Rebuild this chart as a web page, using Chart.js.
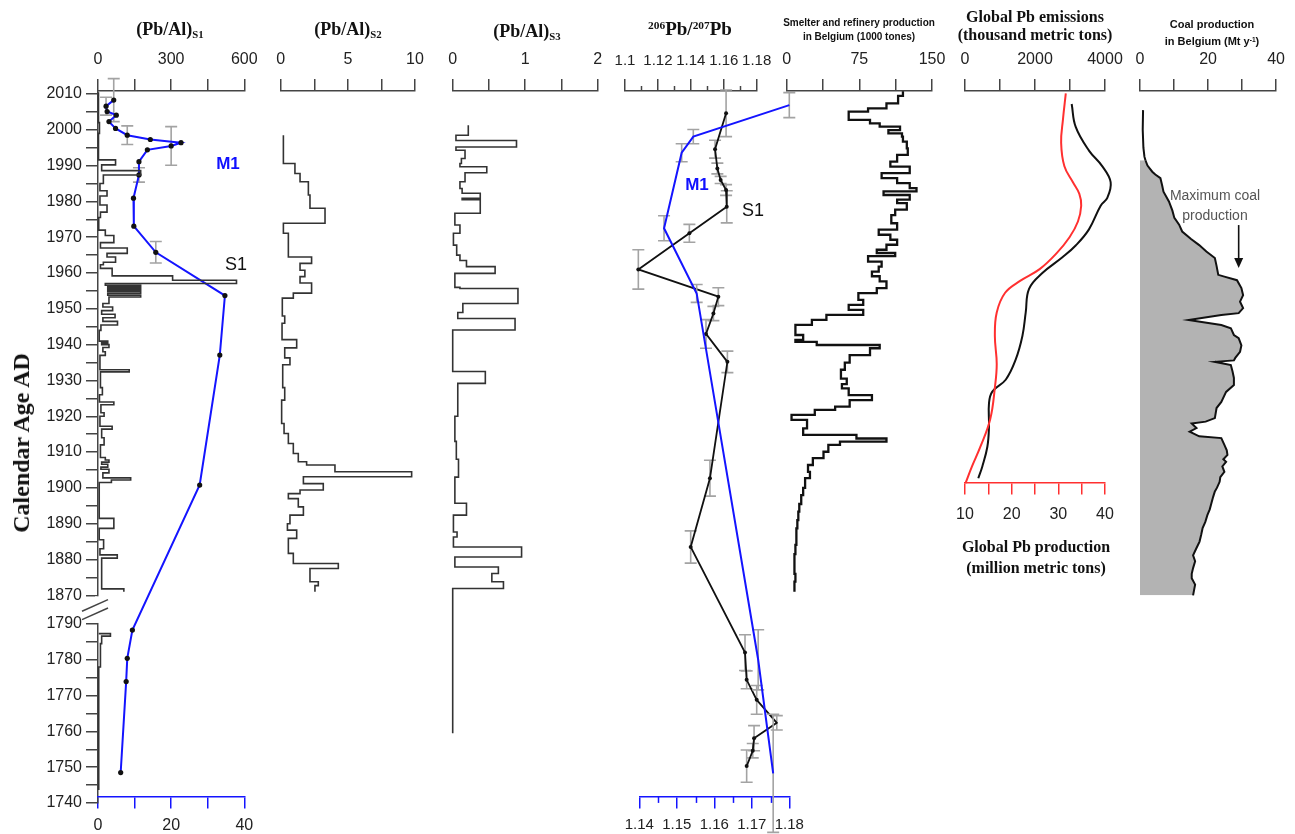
<!DOCTYPE html>
<html lang="en">
<head>
<meta charset="UTF-8">
<title>Pb records, smelter, emissions and coal</title>
<script src="https://cdn.jsdelivr.net/npm/chart.js"></script>
<style>
  body { margin: 0; background: #fff; }
  #wrap { position: relative; width: 1295px; height: 834px; overflow: hidden; }
  canvas { position: absolute; left: 0; top: 0; }
  .t { position: absolute; transform: translate(-50%, -50%); white-space: nowrap; color: #111; line-height: 1; }
  .serif { font-family: "Liberation Serif", "Times New Roman", serif; font-weight: bold; }
  .sans { font-family: "Liberation Sans", Arial, sans-serif; font-weight: bold; }
  sub { font-size: 60%; vertical-align: -0.3em; }
  sup { font-size: 60%; vertical-align: 0.45em; }
</style>
</head>
<body>
<div id="wrap">
  <canvas id="c1" width="1295" height="834"></canvas>
  <canvas id="c2" width="1295" height="834"></canvas>
  <canvas id="c3" width="1295" height="834"></canvas>
  <canvas id="c4a" width="1295" height="834"></canvas>
  <canvas id="c4b" width="1295" height="834"></canvas>
  <canvas id="c5" width="1295" height="834"></canvas>
  <canvas id="c6" width="1295" height="834"></canvas>
  <canvas id="c7" width="1295" height="834"></canvas>

  <div class="t serif" style="left:21px;top:443px;font-size:24px;transform:translate(-50%,-50%) rotate(-90deg)">Calendar Age AD</div>
  <div class="t serif" style="left:170px;top:30px;font-size:18px">(Pb/Al)<sub>S1</sub></div>
  <div class="t serif" style="left:348px;top:30px;font-size:18px">(Pb/Al)<sub>S2</sub></div>
  <div class="t serif" style="left:527px;top:32px;font-size:18px">(Pb/Al)<sub>S3</sub></div>
  <div class="t serif" style="left:690px;top:28px;font-size:19px"><sup>206</sup>Pb/<sup>207</sup>Pb</div>
  <div class="t sans" style="left:859px;top:23px;font-size:10px">Smelter and refinery production</div>
  <div class="t sans" style="left:859px;top:37px;font-size:10px">in Belgium (1000 tones)</div>
  <div class="t serif" style="left:1035px;top:17px;font-size:16px">Global Pb emissions</div>
  <div class="t serif" style="left:1035px;top:35px;font-size:16px">(thousand metric tons)</div>
  <div class="t serif" style="left:1036px;top:547px;font-size:16px">Global Pb production</div>
  <div class="t serif" style="left:1036px;top:568px;font-size:16px">(million metric tons)</div>
  <div class="t sans" style="left:1212px;top:24px;font-size:11px">Coal production</div>
  <div class="t sans" style="left:1212px;top:41px;font-size:11px">in Belgium (Mt y<sup>-1</sup>)</div>
  <div class="t sans" style="left:1215px;top:195px;font-size:14px;font-weight:normal;color:#555">Maximum coal</div>
  <div class="t sans" style="left:1215px;top:215px;font-size:14px;font-weight:normal;color:#555">production</div>
  <div class="t sans" style="left:228px;top:163px;font-size:17px;color:#1010ff">M1</div>
  <div class="t sans" style="left:236px;top:264px;font-size:18px;font-weight:normal">S1</div>
  <div class="t sans" style="left:697px;top:184px;font-size:17px;color:#1010ff">M1</div>
  <div class="t sans" style="left:753px;top:210px;font-size:18px;font-weight:normal">S1</div>
</div>
<script>
// ---- data (years are calendar years AD) ----

// y axis ticks, every 5 years on both sides of the break
const yearTicks = [2010, 2005, 2000, 1995, 1990, 1985, 1980, 1975, 1970, 1965, 1960, 1955, 1950, 1945,
  1940, 1935, 1930, 1925, 1920, 1915, 1910, 1905, 1900, 1895, 1890, 1885, 1880, 1875, 1870,
  1790, 1785, 1780, 1775, 1770, 1765, 1760, 1755, 1750, 1745, 1740];

// (Pb/Al)S1 step record: top year of each interval and its value
const s1Tops = [2010.5, 2002, 1999, 1991.6, 1990.2, 1988.6, 1987.4, 1985, 1983, 1981.5, 1979, 1977, 1975.5,
  1972, 1970.5, 1968.5, 1967, 1965.5, 1964.5, 1963, 1962.3, 1961.3, 1959.2, 1958.0, 1957.1, 1956.6,
  1956.2, 1955.8, 1955.3, 1954.8, 1954.3, 1953.8, 1953.3, 1951.5, 1950.5, 1949.5, 1948.5, 1947.5, 1946.5,
  1945.5, 1944, 1941, 1940.5, 1940, 1939.2, 1938, 1937, 1933, 1932.4, 1928, 1926, 1924, 1923.2, 1921, 1920,
  1917.2, 1916.4, 1914, 1912, 1908.5, 1907.8, 1907.2, 1906.6, 1905.8, 1905.2, 1904.2, 1902.8, 1902.2,
  1901.5, 1891.5, 1888.7, 1885.5, 1883, 1881.3, 1880.4, 1871.8];
const s1Vals = [2, 6, 2, 72, 15, 175, 22, 8, 37, 8, 37, 10, 3,
  30, 65, 10, 120, 37, 72, 22, 10, 58, 306, 568, 30, 175,
  40, 175, 40, 175, 40, 175, 45, 20, 60, 15, 70, 20, 80,
  12, 5, 40, 15, 45, 20, 30, 8, 128, 10, 18, 6, 65, 12, 25, 8,
  58, 15, 25, 10, 30, 45, 15, 40, 12, 45, 20, 134, 55,
  5, 65, 5, 23, 8, 79, 15, 106];
const s1End = 1871;
const s1LowTops = [1787.3, 1787.3, 1786.6, 1784.5, 1778];
const s1LowVals = [3, 51, 15, 10, 3];
const s1LowEnd = 1743.6;

// M1 record (bottom axis, 0-40) with age error (years)
const m1Years = [2008.3, 2006.6, 2005.1, 2004.1, 2002.3, 2000.4, 1998.5, 1997.3, 1996.4, 1995.5, 1994.4,
  1991.1, 1987.4, 1980.9, 1973.1, 1965.8, 1953.7, 1937.1, 1900.8, 1788.3, 1780.4, 1773.9, 1748.5];
const m1Vals = [4.3, 2.2, 2.5, 5.0, 3.0, 4.8, 8.0, 14.3, 22.7, 20.0, 13.5,
  11.2, 11.2, 9.7, 9.8, 15.8, 34.7, 33.3, 27.8, 9.4, 8.0, 7.7, 6.2];
const m1Err = [6, 2.5, 0, 0, 0, 0, 2.6, 0, 0, 5.4, 0, 0, 2, 0, 0, 3, 0, 0, 0, 0, 0, 0, 0];

// (Pb/Al)S2 step record
const s2Tops = [1998.5, 1990.6, 1987.8, 1985.5, 1981.8, 1978.1, 1973.9, 1971.1, 1964.5, 1962.7, 1960.8,
  1959, 1957.2, 1954.4, 1953, 1948, 1946, 1941.4, 1939.1, 1936.3, 1934.4, 1928, 1924.5, 1918, 1915.2,
  1912.4, 1909.6, 1907.3, 1906.4, 1904.5, 1903.1, 1901.2, 1899.4, 1898.4, 1897, 1894.7, 1892.4, 1890,
  1888.2, 1885.9, 1881.7, 1878.9, 1877.5, 1873.8, 1872.7];
const s2Vals = [0.2, 1.06, 1.44, 2.06, 2.18, 3.3, 0.2, 0.57, 2.3, 1.44, 1.8,
  1.44, 2.3, 0.94, 0.12, 0.3, 0.1, 1.19, 0.3, 0.69, 0.15, 0.3, 0.07, 0.25, 0.57,
  0.94, 1.31, 1.93, 4.04, 9.75, 1.69, 3.17, 1.44, 0.57, 1.31, 1.69, 0.69, 0.5,
  1.19, 0.57, 0.94, 4.29, 2.18, 2.8, 2.55];
const s2End = 1871;

// (Pb/Al)S3 step record
const s3Tops = [2001.3, 1998.5, 1997, 1995.2, 1994.3, 1992, 1990.6, 1989.7, 1988, 1985.5, 1983.6, 1982.3,
  1980.9, 1980.5, 1976.7, 1973.4, 1971.1, 1967.8, 1965, 1963.5, 1961.8, 1959.9, 1956, 1955.7, 1951.5,
  1949, 1947.3, 1944.1, 1932.5, 1929.2, 1920, 1913, 1908, 1903, 1895.7, 1892.4, 1887.7, 1886.3, 1883.5,
  1880.7, 1877.9, 1876.1, 1873.8, 1871.9];
const s3Vals = [0.215, 0.045, 0.88, 0.045, 0.17, 0.12, 0.1, 0.47, 0.17, 0.1, 0.13, 0.38,
  0.13, 0.38, 0.03, 0.1, 0.01, 0.055, 0.1, 0.19, 0.585, 0.03, 0.1, 0.9, 0.14,
  0.07, 0.86, 0, 0.45, 0.07, 0.03, 0.05, 0.08, 0.03, 0.19, 0.01, 0.06, 0.01, 0.95,
  0.03, 0.63, 0.54, 0.7, 0];
const s3End = 1759.5;

// 206Pb/207Pb, S1 core (top axis) and M1 core (bottom axis)
const ratioS1Years = [2004.6, 1994.6, 1989.2, 1986, 1983.2, 1978.5, 1971.1, 1961, 1953.4, 1948.7, 1943,
  1935.2, 1902.7, 1883.5, 1782, 1774.4, 1768.8, 1762.4, 1758.1, 1754.6, 1750.3];
const ratioS1Vals = [1.1614, 1.1547, 1.1561, 1.1581, 1.1614, 1.1618, 1.1391, 1.1081, 1.1567, 1.1537, 1.1492,
  1.1622, 1.1516, 1.1399, 1.1729, 1.1739, 1.18, 1.1922, 1.1784, 1.1776, 1.1739];
const ratioS1Err = [6.5, 2.5, 1.5, 1, 1.5, 4.5, 2.5, 5.5, 2.5, 2, 4, 3, 5, 4.5, 5, 2.5, 4, 2, 3.5, 2, 4.5];
const ratioM1Years = [2006.9, 1998.1, 1993.6, 1972.5, 1954.3, 1780, 1748.3];
const ratioM1Vals = [1.18, 1.1544, 1.1513, 1.1466, 1.1553, 1.1717, 1.1757];
const ratioM1Err = [3.5, 2, 2.5, 3.5, 2.5, 8.4, 16.5];

// smelter and refinery production in Belgium (1000 t), annual steps
const smTops = [2010.8, 2009.5, 2007.4, 2006, 2005.1, 2002.8, 2001.8, 2000.9, 1999.9, 1999, 1998.1, 1996.7,
  1994.8, 1993, 1991.1, 1989.7, 1987.9, 1986.5, 1985.1, 1983.7, 1982.8, 1981.8, 1980.5, 1979.5, 1977.7,
  1976.2, 1973.9, 1972.1, 1970.7, 1969.3, 1967.9, 1966.5, 1965.6, 1964.7, 1963.2, 1961.8, 1960.4, 1959.1,
  1957.7, 1955.8, 1954.4, 1952.5, 1951.1, 1949.7, 1948.3, 1946.9, 1945.5, 1942.7, 1941.3, 1940.8, 1939.9,
  1939, 1937.1, 1935, 1933, 1930.5, 1929, 1927.8, 1925.9, 1924.5, 1922.7, 1921.8, 1920.4, 1919, 1916.6,
  1914.8, 1913.8, 1912.9, 1912, 1910.1, 1908.3, 1906.4, 1904.5, 1902.7, 1900, 1898, 1895.5, 1893.4, 1891,
  1888.7, 1886, 1884.1, 1881.5, 1879.4, 1876, 1873.8];
const smVals = [120, 115, 103, 84, 64, 86, 96, 117, 105, 119, 120, 124,
  125, 114, 107, 127, 98, 114, 127, 134, 100, 127, 114, 124, 112,
  108, 114, 95, 107, 114, 103, 93, 112, 84, 98, 95, 88, 96,
  103, 93, 74, 79, 64, 79, 41, 26, 9, 17, 9, 31, 96,
  86, 65, 60, 56, 62, 57, 64, 88, 65, 50, 29, 5, 21, 17,
  72, 103, 55, 43, 38, 27, 22, 24, 19, 17, 15, 13, 12, 11,
  10, 10, 9, 8, 8, 9, 8];
const smEnd = 1871;

// global Pb emissions (thousand t) and global Pb production (million t)
const emisYears = [2007.2, 2000.8, 1994.2, 1989.8, 1985.4, 1981, 1978.8, 1972.2, 1967.7, 1964.4, 1960,
  1955.6, 1949, 1942.4, 1935.8, 1930.2, 1926.9, 1923.6, 1917, 1911.5, 1906, 1902.7];
const emisVals = [3048, 3163, 3542, 3925, 4161, 4066, 3876, 3542, 3163, 2783, 2210,
  1830, 1735, 1640, 1447, 1163, 780, 685, 685, 639, 495, 380];
const prodYears = [2010.2, 2003, 1996.4, 1989.8, 1985.4, 1982.1, 1978.8, 1974.4, 1970, 1965.5, 1961.1,
  1957.8, 1954.5, 1949, 1942.4, 1934.6, 1928, 1919.2, 1911.5, 1906, 1901.3];
const prodVals = [31.6, 31.0, 30.6, 31.3, 33.1, 34.5, 34.9, 34.2, 32.4, 29.6, 26.0,
  21.8, 18.6, 16.8, 16.4, 16.8, 16.4, 15.4, 13.3, 11.5, 10.1];

// coal production in Belgium (Mt per year)
const coalYears = [2005.5, 2000, 1995, 1992.5, 1991.5, 1990, 1988.3, 1987.5, 1986.5, 1984.5, 1982.7, 1980,
  1977.5, 1975.4, 1973.5, 1971.6, 1969.5, 1967.8, 1966, 1964.2, 1962, 1959.5, 1959, 1958, 1955.8, 1953.8,
  1952, 1950.2, 1948.8, 1948.3, 1946.9, 1945.5, 1944.6, 1942.7, 1941.8, 1939.8, 1938, 1936.3, 1935.6,
  1935.2, 1934.3, 1932.5, 1930.7, 1928.7, 1926.8, 1924, 1922.3, 1919.5, 1918.5, 1918, 1916.7, 1915.7,
  1914.4, 1913.9, 1912, 1910.5, 1909.2, 1908, 1907.3, 1906, 1904.5, 1903, 1901.7, 1900, 1899, 1897.5,
  1896.1, 1894, 1892.4, 1890.5, 1888.8, 1887, 1885, 1883, 1881.2, 1879.5, 1877.6, 1876, 1874.8, 1873,
  1872, 1870];
const coalVals = [0.9, 0.8, 1.0, 1.3, 1.6, 2.2, 3.6, 4.5, 6, 6.5, 6.9, 8.5,
  9.5, 10.1, 11.5, 12.4, 15, 17.4, 19.5, 22, 22.5, 23, 24.8, 28.5, 29.8, 30.3,
  29.4, 30.3, 29, 23.9, 14.3, 23.9, 26.7, 27.6, 29, 29.8, 29.4, 28, 27.6,
  22, 26.7, 27.2, 27.6, 27.6, 25.3, 23.9, 22.5, 22, 19.3, 15.2, 16.6, 14.6,
  17.4, 23.9, 24.8, 25.5, 25.7, 24.5, 25.3, 24.2, 24.8, 23.6, 23.4, 22.6, 22, 21.5,
  21.1, 20.5, 19.8, 19.2, 18.4, 18, 17.5, 16.5, 15.6, 16.2, 15.6, 15.2, 15.2, 16.2,
  16, 15.6];
const coalFillFrom = 4; // index where the grey fill starts

// top / bottom axis ticks and labels
const s1Ticks = [0, 150, 300, 450, 600], s1Labels = ['0', '', '300', '', '600'];
const m1Ticks = [0, 10, 20, 30, 40], m1Labels = ['0', '', '20', '', '40'];
const s2Ticks = [0, 2.5, 5, 7.5, 10], s2Labels = ['0', '', '5', '', '10'];
const s3Ticks = [0, 0.5, 1, 1.5, 2], s3Labels = ['0', '', '1', '', '2'];
const ratioTopTicks = [1.10, 1.11, 1.12, 1.13, 1.14, 1.15, 1.16, 1.17, 1.18];
const ratioTopLabels = ['1.1', '', '1.12', '', '1.14', '', '1.16', '', '1.18'];
const ratioBotTicks = [1.14, 1.145, 1.15, 1.155, 1.16, 1.165, 1.17, 1.175, 1.18];
const ratioBotLabels = ['1.14', '', '1.15', '', '1.16', '', '1.17', '', '1.18'];
const smTicks = [0, 37.5, 75, 112.5, 150], smLabels = ['0', '', '75', '', '150'];
const emisTicks = [0, 1000, 2000, 3000, 4000], emisLabels = ['0', '', '2000', '', '4000'];
const prodTicks = [10, 15, 20, 25, 30, 35, 40], prodLabels = ['10', '', '20', '', '30', '', '40'];
const coalTicks = [0, 10, 20, 30, 40], coalLabels = ['0', '', '20', '', '40'];

// ---- layout ----
const W = 1295, H = 834, TOP = 91, BOT = 803;
const AXH = 50;                         // fixed height given to the top axes
const YAXW = 98;                        // fixed width of the age axis
const SHIFT = 72;                       // years cut out by the axis break (1790 sits at 1862)
const toV = yr => (yr < 1830 ? yr + SHIFT : yr);
const fromV = v => (v < 1866 ? v - SHIFT : v);
const Y_MIN = toV(1740), Y_MAX = 2010.84;

const SANS = '"Liberation Sans", Arial, sans-serif';
const TICK_FONT = { family: SANS, size: 16 };
const SMALL_FONT = { family: SANS, size: 15 };
const AX = '#444', BLUE = '#1414ff', RED = '#ff3030';
Chart.defaults.font.family = SANS;

function xAxis(min, max, ticks, labels, opts = {}) {
  const color = opts.color || AX;
  const pos = opts.position || 'top';
  return {
    type: 'linear', axis: 'x', position: pos, min, max,
    afterFit: s => { s.height = pos === 'top' ? AXH : 0; },
    afterBuildTicks: s => { s.ticks = ticks.map(v => ({ value: v })); },
    grid: { drawOnChartArea: false, tickLength: opts.tl || 12, color, lineWidth: 1.5,
      tickColor: opts.minor ? c => (c.index % 2 ? 'rgba(0,0,0,0)' : color) : color },
    border: { color, width: 1.5 },
    ticks: { padding: opts.pad !== undefined ? opts.pad : 10, autoSkip: false, maxRotation: 0,
      font: opts.font || TICK_FONT, color: '#222', callback: (v, i) => labels[i] }
  };
}

const hiddenY = () => ({ type: 'linear', display: false, min: Y_MIN, max: Y_MAX });

const yearAxis = {
  type: 'linear', position: 'left', min: Y_MIN, max: Y_MAX,
  afterFit: s => { s.width = YAXW; },
  afterBuildTicks: s => { s.ticks = yearTicks.map(yr => ({ value: toV(yr) })); },
  grid: { drawOnChartArea: false, tickLength: 12, color: AX, lineWidth: 1.5 },
  border: { color: AX, width: 1.5 },
  ticks: { padding: 4, autoSkip: false, font: TICK_FONT, color: '#222',
    callback: v => { const yr = Math.round(fromV(v)); return yr % 10 === 0 ? String(yr) : ''; } }
};

function stepSet(tops, vals, end, color, width, axis = 'x') {
  const data = tops.map((t, i) => ({ x: vals[i], y: toV(t) }));
  data.push({ x: vals[vals.length - 1], y: toV(end) });
  return { data, stepped: 'after', borderColor: color, borderWidth: width, pointRadius: 0,
    fill: false, xAxisID: axis, clip: false };
}

function lineSet(years, vals, color, width, axis = 'x', extra = {}) {
  return Object.assign({
    data: years.map((y, i) => ({ x: vals[i], y: toV(y) })),
    years, borderColor: color, borderWidth: width, pointRadius: 0, fill: false,
    xAxisID: axis, clip: false
  }, extra);
}

// grey vertical age-error bars
const errorBars = {
  id: 'errorBars',
  beforeDatasetsDraw(chart) {
    const ctx = chart.ctx, ys = chart.scales.y;
    chart.data.datasets.forEach(ds => {
      if (!ds.errYears) return;
      const xs = chart.scales[ds.xAxisID];
      ctx.save();
      ctx.strokeStyle = '#a3a3a3';
      ctx.lineWidth = 1.6;
      ds.errYears.forEach((e, i) => {
        if (!e) return;
        const px = xs.getPixelForValue(ds.data[i].x);
        const a = ys.getPixelForValue(toV(ds.years[i] + e));
        const b = ys.getPixelForValue(toV(ds.years[i] - e));
        ctx.beginPath();
        ctx.moveTo(px, a); ctx.lineTo(px, b);
        ctx.moveTo(px - 6, a); ctx.lineTo(px + 6, a);
        ctx.moveTo(px - 6, b); ctx.lineTo(px + 6, b);
        ctx.stroke();
      });
      ctx.restore();
    });
  }
};

// short minor ticks at the odd tick positions of an axis (top: upward, positioned: downward)
function minorTicks(axisId, len, color, atValue) {
  return {
    id: 'minor_' + axisId,
    afterDraw(chart) {
      const s = chart.scales[axisId], ctx = chart.ctx;
      const base = atValue === undefined ? s.bottom : chart.scales.y.getPixelForValue(atValue);
      const dir = atValue === undefined ? -1 : 1;
      ctx.save();
      ctx.strokeStyle = color; ctx.lineWidth = 1.5;
      s.ticks.forEach((t, i) => {
        if (i % 2 === 0) return;
        const x = Math.round(s.getPixelForValue(t.value)) + 0.5;
        ctx.beginPath(); ctx.moveTo(x, base); ctx.lineTo(x, base + dir * len); ctx.stroke();
      });
      ctx.restore();
    }
  };
}

// the // break on the age axis between 1870 and 1790
const axisBreak = {
  id: 'axisBreak',
  afterDraw(chart) {
    const { ctx, chartArea } = chart, ys = chart.scales.y;
    const y1 = ys.getPixelForValue(1870), y2 = ys.getPixelForValue(toV(1790));
    const x = chartArea.left, mid = (y1 + y2) / 2;
    ctx.save();
    ctx.fillStyle = '#fff';
    ctx.fillRect(x - 3, y1 + 1, 6, y2 - y1 - 2);
    ctx.strokeStyle = AX;
    ctx.lineWidth = 1.5;
    [-4.2, 4.2].forEach(d => {
      ctx.beginPath();
      ctx.moveTo(x - 16, mid + d + 5.8);
      ctx.lineTo(x + 10, mid + d - 5.8);
      ctx.stroke();
    });
    ctx.restore();
  }
};

// arrow pointing at the coal maximum
const coalArrow = {
  id: 'coalArrow',
  afterDatasetsDraw(chart) {
    const ctx = chart.ctx, xs = chart.scales.x, ys = chart.scales.y;
    const x = xs.getPixelForValue(29), a = ys.getPixelForValue(1973.4), b = ys.getPixelForValue(1961.4);
    ctx.save();
    ctx.strokeStyle = '#111'; ctx.fillStyle = '#111'; ctx.lineWidth = 1.6;
    ctx.beginPath(); ctx.moveTo(x, a); ctx.lineTo(x, b - 7); ctx.stroke();
    ctx.beginPath(); ctx.moveTo(x - 4.5, b - 10); ctx.lineTo(x + 4.5, b - 10); ctx.lineTo(x, b); ctx.closePath(); ctx.fill();
    ctx.restore();
  }
};

function makeChart(id, left, right, scales, datasets, plugins = []) {
  const hasTop = Object.values(scales).some(a => a.position === 'top');
  const hasAge = !!scales.y;
  return new Chart(document.getElementById(id), {
    type: 'line',
    data: { datasets },
    options: {
      indexAxis: 'y',
      responsive: false,
      animation: false,
      devicePixelRatio: 1,
      layout: { padding: {
        left: left - (hasAge ? YAXW : 0), right: W - right,
        top: TOP - (hasTop ? AXH : 0), bottom: H - BOT } },
      plugins: { legend: { display: false }, tooltip: { enabled: false } },
      scales: Object.assign({ y: hiddenY() }, scales)
    },
    plugins: [errorBars].concat(plugins)
  });
}

const BOT_AXIS_YEAR = 1741.7;
const botPos = { y: toV(BOT_AXIS_YEAR) };

// (Pb/Al)S1 with M1 overlay
makeChart('c1', 98, 244.3, {
  y: yearAxis,
  x: xAxis(0, 600, s1Ticks, s1Labels),
  x2: xAxis(0, 40, m1Ticks, m1Labels, { position: botPos, color: BLUE, tl: 11, pad: 8 })
}, [
  stepSet(s1Tops, s1Vals, s1End, '#333', 1.6),
  stepSet(s1LowTops, s1LowVals, s1LowEnd, '#333', 1.6),
  lineSet(m1Years, m1Vals, BLUE, 2, 'x2', { errYears: m1Err, pointRadius: 2.6,
    pointBackgroundColor: '#111', pointBorderWidth: 0 })
], [axisBreak]);

// (Pb/Al)S2
makeChart('c2', 280.7, 415, { x: xAxis(0, 10, s2Ticks, s2Labels) },
  [stepSet(s2Tops, s2Vals, s2End, '#333', 1.6)]);

// (Pb/Al)S3
makeChart('c3', 452.7, 597.7, { x: xAxis(0, 2, s3Ticks, s3Labels) },
  [stepSet(s3Tops, s3Vals, s3End, '#333', 1.6)]);

// 206Pb/207Pb S1 (top axis)
makeChart('c4a', 625, 756.7, {
  x: xAxis(1.10, 1.18, ratioTopTicks, ratioTopLabels, { pad: 9, minor: true, font: SMALL_FONT })
}, [
  lineSet(ratioS1Years, ratioS1Vals, '#111', 1.8, 'x', { errYears: ratioS1Err, pointRadius: 2,
    pointBackgroundColor: '#111', pointBorderWidth: 0 })
], [minorTicks('x', 5, AX)]);

// 206Pb/207Pb M1 (bottom axis)
makeChart('c4b', 639.3, 789.3, {
  x: xAxis(1.14, 1.18, ratioBotTicks, ratioBotLabels,
    { position: botPos, color: BLUE, tl: 11, pad: 8, minor: true, font: SMALL_FONT })
}, [
  lineSet(ratioM1Years, ratioM1Vals, BLUE, 2, 'x', { errYears: ratioM1Err })
], [minorTicks('x', 6, BLUE, toV(BOT_AXIS_YEAR))]);

// smelter and refinery production
makeChart('c5', 786.7, 932, { x: xAxis(0, 150, smTicks, smLabels) },
  [stepSet(smTops, smVals, smEnd, '#111', 2.3)]);

// global Pb emissions (black) and production (red)
makeChart('c6', 965, 1105, {
  x: xAxis(0, 4000, emisTicks, emisLabels),
  x2: xAxis(10, 40, prodTicks, prodLabels, { position: { y: toV(1901.3) }, color: RED, tl: 11, pad: 11 })
}, [
  lineSet(prodYears, prodVals, RED, 2, 'x2', { tension: 0.4 }),
  lineSet(emisYears, emisVals, '#111', 2, 'x', { tension: 0.4 })
]);

// coal production
makeChart('c7', 1140, 1285, { x: xAxis(0, 40, coalTicks, coalLabels) }, [
  lineSet(coalYears.slice(0, coalFillFrom + 1), coalVals.slice(0, coalFillFrom + 1), '#111', 2),
  lineSet(coalYears.slice(coalFillFrom), coalVals.slice(coalFillFrom), '#111', 2, 'x',
    { fill: 'origin', backgroundColor: '#b3b3b3', clip: undefined })
], [coalArrow]);
</script>
</body>
</html>
